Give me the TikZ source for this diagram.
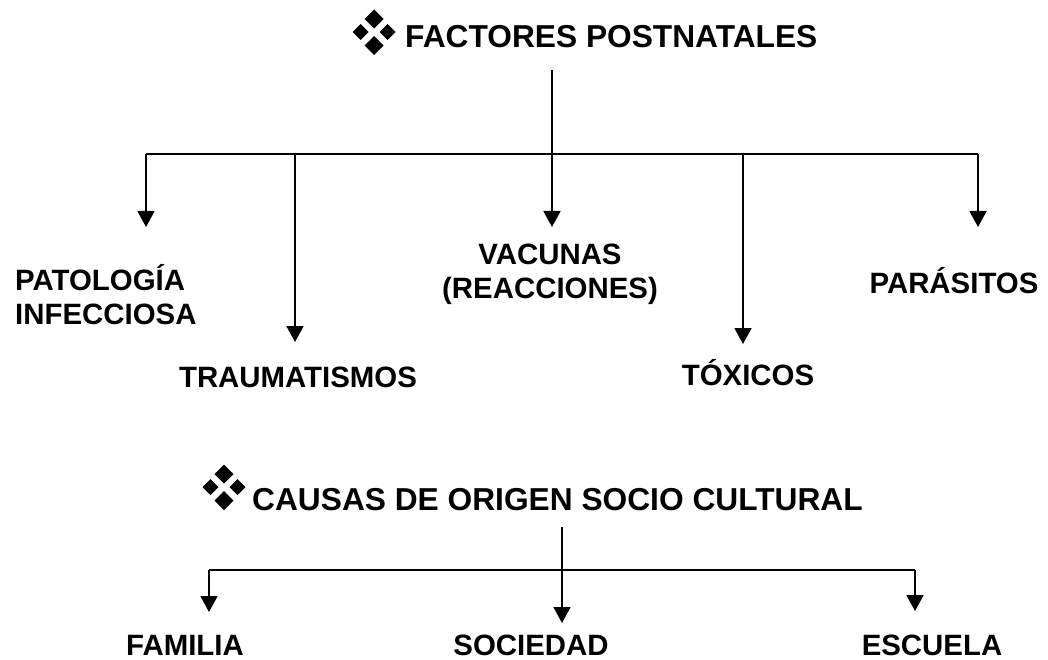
\documentclass[tikz,border=0pt]{standalone}
\usepackage{fontspec}
\setmainfont{Liberation Sans}
\usetikzlibrary{arrows.meta}
\begin{document}
\begin{tikzpicture}[x=1pt,y=-1pt,
  titletext/.style={font=\fontsize{31.7}{36}\selectfont\bfseries, inner sep=0pt, anchor=base west},
  lab/.style={font=\fontsize{29.4}{34}\selectfont\bfseries, inner sep=0pt, anchor=base, align=center},
  wire/.style={line width=1.8pt},
  arr/.style={line width=1.8pt, -{Triangle[width=17pt,length=16pt]}},
  dia/.style={fill=black},
  bulletsym/.pic={
    \fill[dia] (0,-9.5) -- (9.5,0) -- (0,9.5) -- (-9.5,0) -- cycle;
    \fill[dia] (-13.5,13) ++(0,-8) -- ++(8,8) -- ++(-8,8) -- ++(-8,-8) -- cycle;
    \fill[dia] (13.5,13) ++(0,-8) -- ++(8,8) -- ++(-8,8) -- ++(-8,-8) -- cycle;
    \fill[dia] (0,26.5) ++(0,-9.5) -- ++(9.5,9.5) -- ++(-9.5,9.5) -- ++(-9.5,-9.5) -- cycle;
  }]
\useasboundingbox (0,0) rectangle (1048,660);

% ---------- Factores postnatales ----------
\pic at (374,19) {bulletsym};
\node[titletext] (t1) at (405,48) {FACTORES POSTNATALES};
\coordinate (t1s) at (552,70);
\coordinate (b1) at (552,154);
\coordinate (b1l) at (146,154);
\coordinate (b1r) at (978,154);

\coordinate (e1) at (146,227);
\coordinate (e2) at (295,342);
\coordinate (e3) at (552,227);
\coordinate (e4) at (743,344);
\coordinate (e5) at (978,227);

\node[lab, anchor=base west, align=left] (n1) at (15,324) {PATOLOGÍA\\INFECCIOSA};
\node[lab] (n2) at (298,387) {TRAUMATISMOS};
\node[lab] (n3) at (550,298) {VACUNAS\\(REACCIONES)};
\node[lab] (n4) at (748,385) {TÓXICOS};
\node[lab] (n5) at (954,293) {PARÁSITOS};

\draw[wire] (t1s) -- (b1);
\draw[wire] (b1l) -- (b1r);
\draw[arr] (b1l) -- (e1);
\draw[arr] (b1l -| e2) -- (e2);
\draw[arr] (b1) -- (e3);
\draw[arr] (b1l -| e4) -- (e4);
\draw[arr] (b1r) -- (e5);

% ---------- Causas de origen socio cultural ----------
\pic at (224,474) {bulletsym};
\node[titletext] (t2) at (252,510) {CAUSAS DE ORIGEN SOCIO CULTURAL};
\coordinate (t2s) at (562,527);
\coordinate (b2l) at (209,570);
\coordinate (b2r) at (915,570);
\coordinate (f1) at (209,612);
\coordinate (f2) at (562,623);
\coordinate (f3) at (915,611);

\node[lab] (m1) at (185,655) {FAMILIA};
\node[lab] (m2) at (531,655) {SOCIEDAD};
\node[lab] (m3) at (932,655) {ESCUELA};

\draw[wire] (b2l) -- (b2r);
\draw[arr] (t2s) -- (f2);
\draw[arr] (b2l) -- (f1);
\draw[arr] (b2r) -- (f3);
\end{tikzpicture}
\end{document}
